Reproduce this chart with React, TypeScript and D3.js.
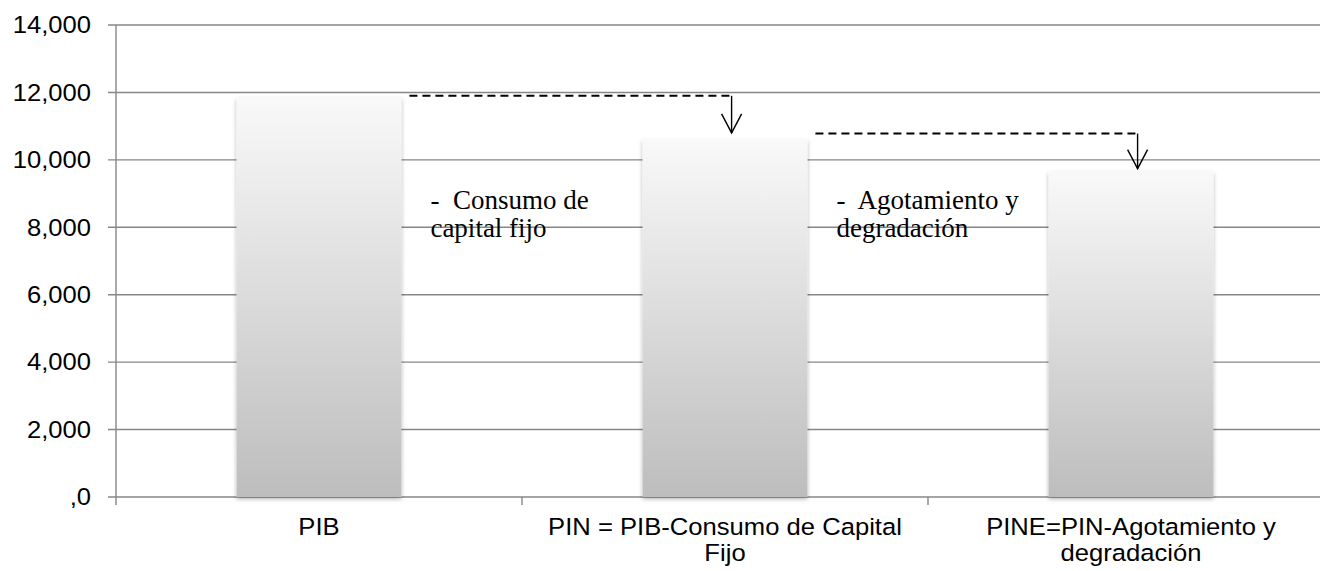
import { useEffect, useRef } from "react";
import * as d3 from "d3";

// categorias y valores
const categories = ["PIB", "PIN = PIB-Consumo de Capital Fijo", "PINE=PIN-Agotamiento y degradación"];
const categoryLines = [["PIB"], ["PIN = PIB-Consumo de Capital", "Fijo"], ["PINE=PIN-Agotamiento y", "degradación"]];
const values = [11850, 10600, 9650];

const yTicks = [0, 2000, 4000, 6000, 8000, 10000, 12000, 14000];
const yTickLabels = [",0", "2,000", "4,000", "6,000", "8,000", "10,000", "12,000", "14,000"];

// anotaciones: linea punteada (nivel de partida) y flecha hasta el nivel siguiente
const dashFrom = [11900, 10780];
const arrowTo = [10800, 9740];
const noteLines = [["-  Consumo de", "capital fijo"], ["-  Agotamiento y", "degradación"]];
const noteValue = 8550;

function App() {
  const ref = useRef<SVGSVGElement>(null);

  useEffect(() => {
    const width = 1320;
    const height = 571;
    const margin = { top: 25, left: 116, bottom: 74 };
    const plotRight = 1334;
    const bottom = height - margin.bottom;

    const svg = d3.select(ref.current);
    svg.selectAll("*").remove();

    const x = d3
      .scaleBand()
      .domain(categories)
      .range([margin.left, plotRight])
      .paddingInner(0.594)
      .paddingOuter(0.297);
    const step = x.step();
    const y = d3.scaleLinear([0, 14000], [bottom, margin.top]);

    const defs = svg.append("defs");
    const grad = defs
      .append("linearGradient")
      .attr("id", "barGrad")
      .attr("x1", 0)
      .attr("y1", 0)
      .attr("x2", 0)
      .attr("y2", 1);
    grad.append("stop").attr("offset", "0%").attr("stop-color", "#f9f9f9");
    grad.append("stop").attr("offset", "100%").attr("stop-color", "#bdbdbd");

    const shadow = defs
      .append("filter")
      .attr("id", "shadow")
      .attr("x", "-10%")
      .attr("y", "-10%")
      .attr("width", "120%")
      .attr("height", "120%");
    shadow
      .append("feDropShadow")
      .attr("dx", 0)
      .attr("dy", 2)
      .attr("stdDeviation", 2)
      .attr("flood-color", "#000")
      .attr("flood-opacity", 0.3);

    const gridColor = "#878787";

    // lineas de fondo + marcas del eje y
    yTicks.forEach((t, i) => {
      svg
        .append("line")
        .attr("x1", margin.left - 8)
        .attr("x2", plotRight)
        .attr("y1", y(t))
        .attr("y2", y(t))
        .attr("stroke", gridColor)
        .attr("stroke-width", 1.4);

      svg
        .append("text")
        .attr("transform", `translate(${margin.left - 25},${y(t)}) scale(1.09,1)`)
        .attr("dy", "0.35em")
        .attr("text-anchor", "end")
        .attr("font-family", "Liberation Sans, Arial, sans-serif")
        .attr("font-size", 23.5)
        .attr("fill", "#000")
        .text(yTickLabels[i]);
    });

    // eje y
    svg
      .append("line")
      .attr("x1", margin.left)
      .attr("x2", margin.left)
      .attr("y1", margin.top)
      .attr("y2", bottom)
      .attr("stroke", gridColor)
      .attr("stroke-width", 1.4);

    // marcas del eje x entre categorias
    d3.range(categories.length + 1).forEach((i) => {
      const tx = margin.left + i * step;
      svg
        .append("line")
        .attr("x1", tx)
        .attr("x2", tx)
        .attr("y1", bottom)
        .attr("y2", bottom + 8)
        .attr("stroke", gridColor)
        .attr("stroke-width", 1.4);
    });

    // barras
    categories.forEach((c, i) => {
      svg
        .append("rect")
        .attr("x", x(c)!)
        .attr("y", y(values[i]))
        .attr("width", x.bandwidth())
        .attr("height", bottom - y(values[i]))
        .attr("fill", "url(#barGrad)")
        .attr("filter", "url(#shadow)");

      const cx = x(c)! + x.bandwidth() / 2;
      categoryLines[i].forEach((line, j) => {
        svg
          .append("text")
          .attr("transform", `translate(${cx},${bottom + 38 + j * 26}) scale(1.09,1)`)
          .attr("text-anchor", "middle")
          .attr("font-family", "Liberation Sans, Arial, sans-serif")
          .attr("font-size", 23.5)
          .attr("fill", "#000")
          .text(line);
      });
    });

    // anotaciones
    dashFrom.forEach((v, i) => {
      const x0 = x(categories[i])! + x.bandwidth() + 8;
      const ax = x(categories[i + 1])! + x.bandwidth() * 0.54;
      const yd = y(v);
      const yt = y(arrowTo[i]);

      svg
        .append("line")
        .attr("x1", x0)
        .attr("x2", ax)
        .attr("y1", yd)
        .attr("y2", yd)
        .attr("stroke", "#000")
        .attr("stroke-width", 2)
        .attr("stroke-dasharray", "8,5");

      svg
        .append("line")
        .attr("x1", ax)
        .attr("x2", ax)
        .attr("y1", yd)
        .attr("y2", yt)
        .attr("stroke", "#000")
        .attr("stroke-width", 1.4);

      svg
        .append("path")
        .attr("d", `M${ax - 10},${yt - 19}L${ax},${yt}L${ax + 10},${yt - 19}`)
        .attr("fill", "none")
        .attr("stroke", "#000")
        .attr("stroke-width", 1.4);

      const tx = x(categories[i])! + x.bandwidth() + 29;
      noteLines[i].forEach((line, j) => {
        svg
          .append("text")
          .attr("x", tx)
          .attr("y", y(noteValue) + j * 28)
          .attr("xml:space", "preserve")
          .style("white-space", "pre")
          .attr("font-family", "Liberation Serif, Times New Roman, serif")
          .attr("font-size", 27)
          .attr("fill", "#000")
          .text(line);
      });
    });

    svg.attr("width", width).attr("height", height);
  }, []);

  return (
    <svg
      ref={ref}
      width={1320}
      height={571}
      style={{ position: "absolute", left: 0, top: 0, background: "#fff" }}
    ></svg>
  );
}

export default App;
